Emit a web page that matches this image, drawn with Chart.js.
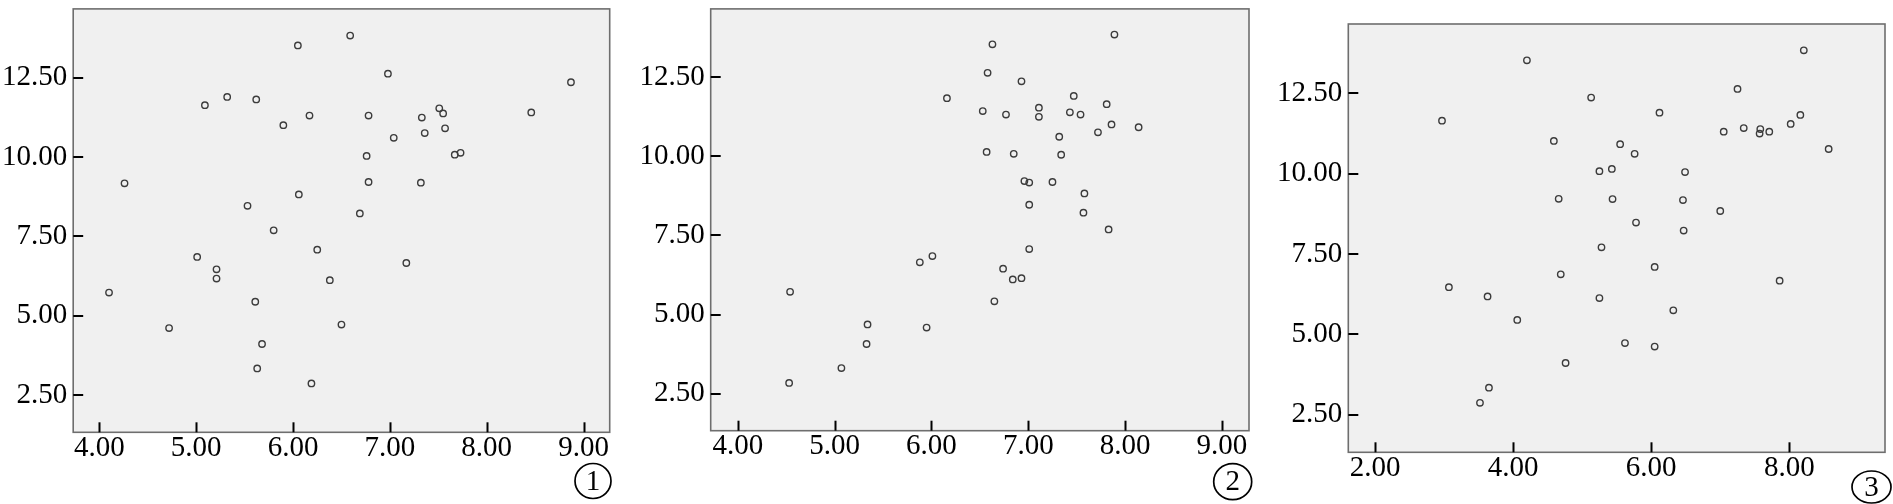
<!DOCTYPE html>
<html>
<head>
<meta charset="utf-8">
<script src="https://cdn.jsdelivr.net/npm/chart.js@4/dist/chart.umd.min.js"></script>
<style>
  html, body { margin: 0; padding: 0; background: #fff; }
  #wrap { position: relative; width: 1893px; height: 504px; overflow: hidden; }
  canvas { position: absolute; top: 0; }
</style>
</head>
<body>
<div id="wrap">
  <canvas id="c1" width="631" height="504" style="left:0px"></canvas>
  <canvas id="c2" width="631" height="504" style="left:631px"></canvas>
  <canvas id="c3" width="631" height="504" style="left:1262px"></canvas>
</div>
<script>
// values
const x1 = [6.59, 6.05, 6.98, 8.87, 5.32, 5.62, 5.09, 7.51, 7.55, 8.46,
            6.17, 6.78, 7.33, 5.90, 7.57, 7.36, 7.04, 6.76, 7.67, 7.73,
            4.26, 6.78, 7.32, 6.06, 5.53, 6.69, 5.80, 6.25, 5.01, 7.17,
            5.21, 5.21, 6.38, 4.10, 5.61, 6.50, 4.72, 5.68, 5.63, 6.19];
const y1 = [13.82, 13.51, 12.62, 12.35, 11.89, 11.81, 11.63, 11.53, 11.37, 11.40,
            11.30, 11.30, 11.24, 11.00, 10.90, 10.75, 10.60, 10.03, 10.07, 10.13,
            9.17, 9.21, 9.19, 8.82, 8.46, 8.22, 7.69, 7.08, 6.85, 6.66,
            6.46, 6.17, 6.12, 5.73, 5.44, 4.72, 4.61, 4.11, 3.34, 2.87];

const x2 = [7.89, 6.63, 6.58, 6.93, 6.16, 7.47, 7.81, 6.53, 6.77, 7.11,
            7.11, 7.43, 7.54, 7.86, 8.14, 7.72, 7.32, 6.57, 6.85, 7.34,
            6.96, 7.01, 7.25, 7.58, 7.01, 7.57, 7.83, 7.01, 6.01, 5.88,
            6.74, 6.84, 6.93, 4.54, 6.65, 5.34, 5.95, 5.33, 5.07, 4.53];
const y2 = [13.85, 13.54, 12.64, 12.37, 11.84, 11.91, 11.65, 11.43, 11.32, 11.54,
            11.25, 11.39, 11.32, 11.01, 10.92, 10.76, 10.62, 10.14, 10.08, 10.05,
            9.22, 9.17, 9.19, 8.83, 8.47, 8.22, 7.69, 7.07, 6.85, 6.65,
            6.45, 6.11, 6.15, 5.72, 5.42, 4.69, 4.59, 4.07, 3.31, 2.84];

const x3 = [8.21, 4.20, 7.25, 5.13, 6.12, 8.16, 2.97, 8.02, 7.34, 7.58,
            7.57, 7.71, 7.05, 4.59, 5.55, 5.76, 8.57, 5.25, 5.43, 6.49,
            4.66, 5.44, 6.46, 7.00, 5.78, 6.47, 5.28, 6.05, 4.69, 7.86,
            3.07, 3.63, 5.25, 6.32, 4.06, 5.62, 6.05, 4.76, 3.65, 3.52];
const y3 = [13.84, 13.53, 12.64, 12.37, 11.90, 11.83, 11.65, 11.55, 11.42, 11.39,
            11.25, 11.31, 11.31, 11.02, 10.92, 10.62, 10.77, 10.08, 10.15, 10.05,
            9.22, 9.21, 9.18, 8.84, 8.48, 8.23, 7.71, 7.10, 6.87, 6.67,
            6.47, 6.18, 6.13, 5.75, 5.45, 4.73, 4.62, 4.11, 3.34, 2.87];

const xTicks12 = [4, 5, 6, 7, 8, 9];
const xTicks3 = [2, 4, 6, 8];
const yTicks = [2.5, 5, 7.5, 10, 12.5];
const panelLabels = ['1', '2', '3'];

const FONT = '"Liberation Serif", "Times New Roman", serif';
Chart.defaults.font.family = FONT;
Chart.defaults.font.size = 29;
Chart.defaults.color = '#000';

// background, box, inward tick marks and the circled number
const framePlugin = {
  id: 'frame',
  beforeDatasetsDraw(chart) {
    const a = chart.chartArea;
    const ctx = chart.ctx;
    ctx.save();
    ctx.fillStyle = '#f0f0f0';
    ctx.fillRect(a.left, a.top, a.right - a.left, a.bottom - a.top);
    ctx.restore();
  },
  afterDraw(chart, args, opts) {
    const a = chart.chartArea;
    const ctx = chart.ctx;
    ctx.save();
    ctx.strokeStyle = '#6e6e6e';
    ctx.lineWidth = 1.6;
    ctx.strokeRect(a.left, a.top, a.right - a.left, a.bottom - a.top);

    ctx.strokeStyle = '#000';
    ctx.lineWidth = 2;
    const xs = chart.scales.x;
    const ys = chart.scales.y;
    xs.ticks.forEach(t => {
      const px = Math.round(xs.getPixelForValue(t.value)) + 0.5;
      ctx.beginPath();
      ctx.moveTo(px, a.bottom);
      ctx.lineTo(px, a.bottom - 10);
      ctx.stroke();
    });
    ys.ticks.forEach(t => {
      const py = Math.round(ys.getPixelForValue(t.value));
      ctx.beginPath();
      ctx.moveTo(a.left, py);
      ctx.lineTo(a.left + 10, py);
      ctx.stroke();
    });

    // circled panel number
    ctx.lineWidth = 1.7;
    ctx.beginPath();
    ctx.ellipse(opts.cx, opts.cy, opts.rx, opts.ry, 0, 0, Math.PI * 2);
    ctx.stroke();
    ctx.fillStyle = '#000';
    ctx.font = '29px ' + FONT;
    ctx.textAlign = 'center';
    ctx.textBaseline = 'middle';
    ctx.fillText(opts.label, opts.cx, opts.cy + 1);
    ctx.restore();
  }
};

function makeChart(id, xs, ys, p){
  const points = xs.map((v, i) => ({x: v, y: ys[i]}));
  const ctx = document.getElementById(id).getContext('2d');
  return new Chart(ctx, {
    type: 'scatter',
    data: {
      datasets: [{
        data: points,
        pointStyle: 'circle',
        pointRadius: 3.2,
        pointBorderWidth: 1.4,
        borderColor: '#3c3c3c',
        backgroundColor: 'rgba(0,0,0,0)'
      }]
    },
    options: {
      responsive: false,
      animation: false,
      devicePixelRatio: 1,
      layout: {
        padding: {left: 0, top: p.top, right: 631 - p.right, bottom: 0}
      },
      plugins: {
        legend: {display: false},
        tooltip: {enabled: false},
        frame: p.label
      },
      scales: {
        x: {
          type: 'linear',
          min: p.xMin,
          max: p.xMax,
          afterFit: function(s){ s.height = 504 - p.bottom; },
          afterBuildTicks: function(s){ s.ticks = p.xTicks.map(v => ({value: v})); },
          ticks: {
            callback: v => v.toFixed(2),
            font: {family: FONT, size: 29, lineHeight: 1.1},
            color: '#000',
            padding: 0,
            maxRotation: 0,
            autoSkip: false
          },
          grid: {display: false, drawTicks: false},
          border: {display: false}
        },
        y: {
          type: 'linear',
          min: 1.33,
          max: 14.66,
          afterFit: function(s){ s.width = p.left; },
          afterBuildTicks: function(s){ s.ticks = yTicks.map(v => ({value: v})); },
          ticks: {
            callback: v => v.toFixed(2),
            // tiny line height keeps the top label from pushing the plot down
            font: {family: FONT, size: 29, lineHeight: 0.2},
            color: '#000',
            padding: 6,
            autoSkip: false
          },
          grid: {display: false, drawTicks: false},
          border: {display: false}
        }
      }
    },
    plugins: [framePlugin]
  });
}

makeChart('c1', x1, y1, {
  left: 73.2, top: 5, right: 609.7, bottom: 432.3,
  xMin: 3.73, xMax: 9.27, xTicks: xTicks12,
  label: {label: panelLabels[0], cx: 593, cy: 481, rx: 18, ry: 17.5}
});
makeChart('c2', x2, y2, {
  left: 79.7, top: 2.7, right: 618, bottom: 430.7,
  xMin: 3.72, xMax: 9.28, xTicks: xTicks12,
  label: {label: panelLabels[1], cx: 601.7, cy: 481.7, rx: 19, ry: 18}
});
makeChart('c3', x3, y3, {
  left: 86.3, top: 24, right: 623, bottom: 452.3,
  xMin: 1.613, xMax: 9.386, xTicks: xTicks3,
  label: {label: panelLabels[2], cx: 609.5, cy: 487, rx: 19.5, ry: 16}
});
</script>
</body>
</html>
